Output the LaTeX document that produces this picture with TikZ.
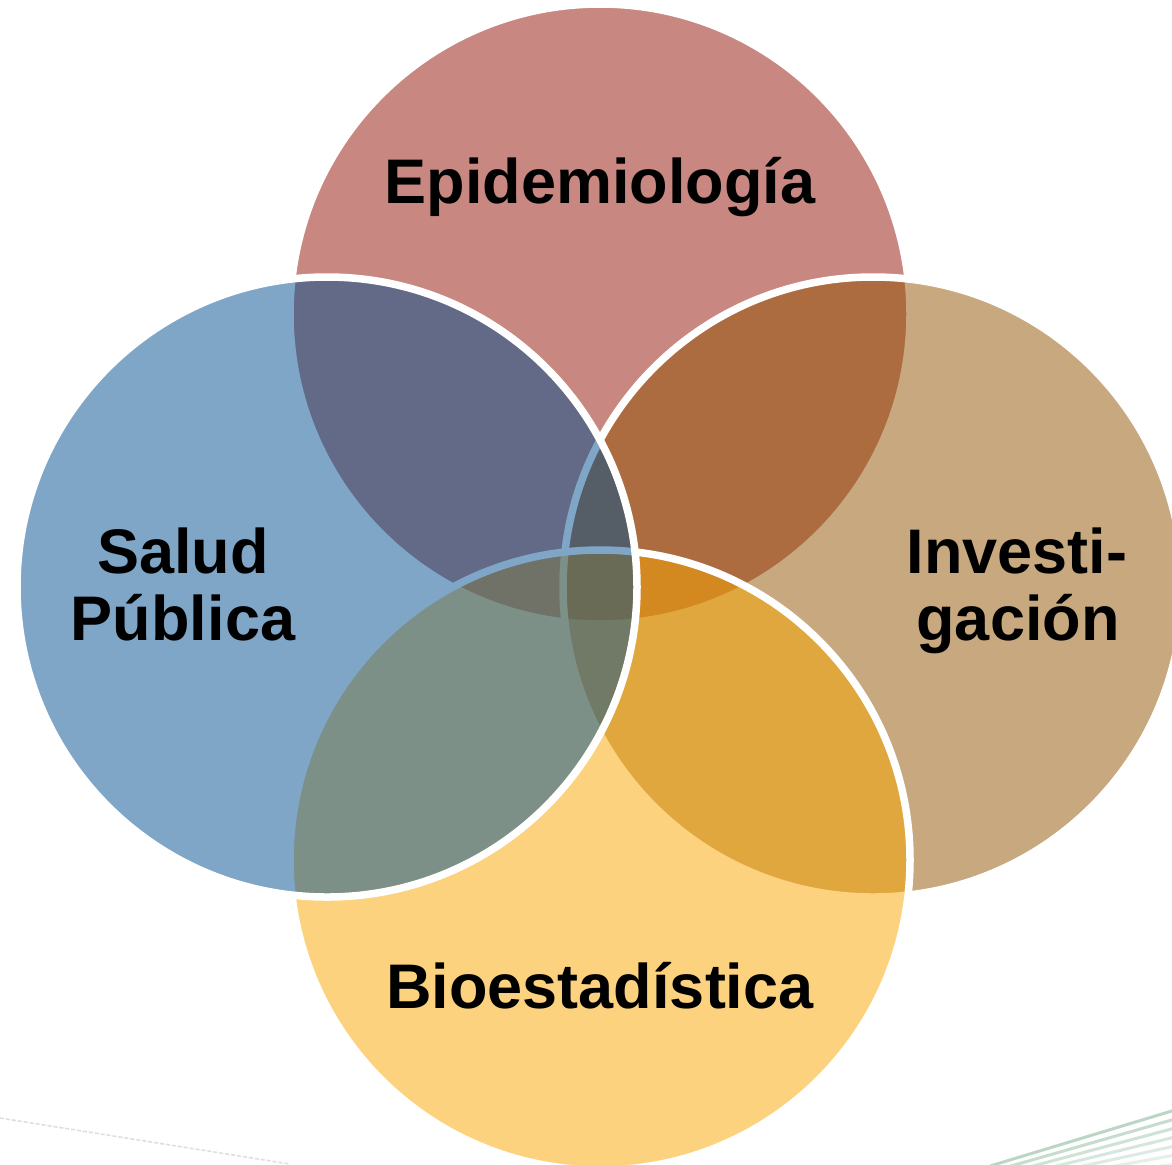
\documentclass[tikz,border=0pt]{standalone}
\usepackage{fontspec}
\setmainfont{Liberation Sans}
\definecolor{cTop}{RGB}{147,17,2}
\definecolor{cLeft}{RGB}{0,79,143}
\definecolor{cRight}{RGB}{145,83,0}
\definecolor{cBottom}{RGB}{251,167,0}
\definecolor{stripe}{RGB}{120,175,140}
\tikzset{
  venn/.style={fill=#1, fill opacity=0.5, draw=white, draw opacity=1, line width=3.75pt},
  lbl/.style={anchor=base, inner sep=0pt, font=\fontsize{31.5}{33.5}\selectfont\bfseries, text=black},
}
\begin{document}
\begin{tikzpicture}[x=0.5pt,y=-0.5pt]
\useasboundingbox (0,0) rectangle (1172,1164);
\fill[white] (0,0) rectangle (1172,1164);
% faint background stripes
\begin{scope}
\clip (0,0) rectangle (1172,1164);
\foreach \i/\o in {0/0.5,1/0.42,2/0.36,3/0.3,4/0.25,5/0.2,6/0.16}{
  \draw[stripe, line width=1.5pt, opacity=\o] (990+\i*14,1166+\i*2) -- (1175,1110+\i*9);
}
\draw[gray!25, line width=0.8pt, dash pattern=on 2pt off 1pt] (0,1118) -- (290,1164);
\end{scope}
% circles
\coordinate (cT) at (600,314);
\coordinate (cR) at (873,587);
\coordinate (cB) at (600,860);
\coordinate (cL) at (327,587);
\path[venn=cTop] (cT) circle[radius=155pt];
\path[venn=cRight] (cR) circle[radius=155pt];
\path[venn=cBottom] (cB) circle[radius=155pt];
\path[venn=cLeft] (cL) circle[radius=155pt];
% labels
\node[lbl] (epi) at (600,203) {Epidemiología};
\node[lbl] (sal1) at (183,573) {Salud};
\node[lbl] (sal2) at (183,640) {Pública};
\node[lbl] (inv1) at (1017,573) {Investi-};
\node[lbl] (inv2) at (1018,640) {gación};
\node[lbl] (bio) at (600,1008) {Bioestadística};
\end{tikzpicture}
\end{document}
